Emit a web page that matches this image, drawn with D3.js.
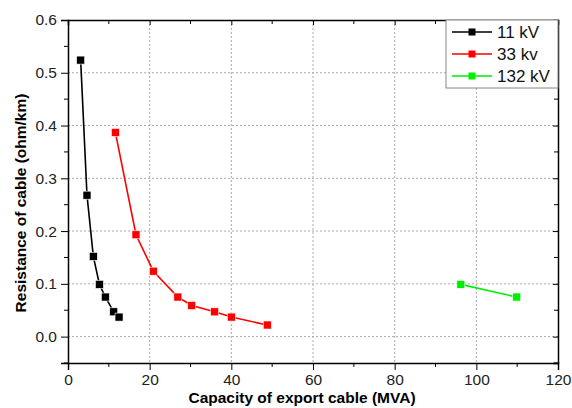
<!DOCTYPE html>
<html>
<head>
<meta charset="utf-8">
<script src="https://cdn.jsdelivr.net/npm/d3@7"></script>
<style>
  body { margin: 0; background: #fff; }
  svg { font-family: "Liberation Sans", Arial, sans-serif; }
</style>
</head>
<body>
<div id="chart"></div>
<script>
// data
const kv11 = [
  { x: 3.1, y: 0.524 }, { x: 4.65, y: 0.268 }, { x: 6.2, y: 0.152 },
  { x: 7.7, y: 0.099 }, { x: 9.15, y: 0.075 }, { x: 11.2, y: 0.047 },
  { x: 12.5, y: 0.037 }
];
const kv33 = [
  { x: 11.6, y: 0.387 }, { x: 16.65, y: 0.193 }, { x: 20.9, y: 0.124 },
  { x: 26.9, y: 0.075 }, { x: 30.3, y: 0.059 }, { x: 35.9, y: 0.047 },
  { x: 40.0, y: 0.037 }, { x: 48.8, y: 0.022 }
];
const kv132 = [
  { x: 96.2, y: 0.099 }, { x: 109.9, y: 0.075 }
];
const seriesNames = ['11 kV', '33 kv', '132 kV'];
const seriesColors = ['#000000', '#ff0000', '#00ee00'];
const xTicks = [0, 20, 40, 60, 80, 100, 120];
const yTicks = [0.0, 0.1, 0.2, 0.3, 0.4, 0.5, 0.6];

const width = 572, height = 408;
const margin = { top: 20, right: 14, bottom: 45, left: 68 };

const svg = d3.select('#chart').append('svg')
  .attr('width', width)
  .attr('height', height);

const x = d3.scaleLinear().domain([0, 120]).range([margin.left, width - margin.right]);
const y = d3.scaleLinear().domain([-0.05, 0.6]).range([height - margin.bottom, margin.top]);

const x0 = x.range()[0], x1 = x.range()[1];
const y0 = y.range()[0], y1 = y.range()[1];

// grid
svg.append('g').selectAll('line')
  .data(xTicks.filter(d => d > 0 && d < 120))
  .join('line')
  .attr('x1', d => x(d)).attr('x2', d => x(d))
  .attr('y1', y1).attr('y2', y0)
  .attr('stroke', '#aaa').attr('stroke-width', 1).attr('stroke-dasharray', '2,2');

svg.append('g').selectAll('line')
  .data(yTicks.filter(d => d < 0.6))
  .join('line')
  .attr('x1', x0).attr('x2', x1)
  .attr('y1', d => y(d)).attr('y2', d => y(d))
  .attr('stroke', '#aaa').attr('stroke-width', 1).attr('stroke-dasharray', '2,2');

// axes
const minorX = d3.range(10, 120, 20);
const minorY = d3.range(-0.05, 0.6, 0.1);

const xAxis = svg.append('g')
  .attr('transform', `translate(0,${y0})`)
  .call(d3.axisBottom(x).tickValues(xTicks).tickSize(7).tickPadding(4).tickFormat(d3.format('d')));
xAxis.append('g').selectAll('line').data(minorX).join('line')
  .attr('x1', d => x(d)).attr('x2', d => x(d)).attr('y1', 0).attr('y2', 4)
  .attr('stroke', '#000');

const yAxis = svg.append('g')
  .attr('transform', `translate(${x0},0)`)
  .call(d3.axisLeft(y).tickValues(yTicks).tickSize(7).tickPadding(4).tickFormat(d3.format('.1f')));
yAxis.append('g').selectAll('line').data(minorY).join('line')
  .attr('y1', d => y(d)).attr('y2', d => y(d)).attr('x1', 0).attr('x2', -4)
  .attr('stroke', '#000');

// top and right axes with inward ticks
const topAxis = svg.append('g')
  .attr('transform', `translate(0,${y1})`)
  .call(d3.axisTop(x).tickValues(xTicks).tickSize(-5).tickFormat(''));
topAxis.append('g').selectAll('line').data(minorX).join('line')
  .attr('x1', d => x(d)).attr('x2', d => x(d)).attr('y1', 0).attr('y2', 4)
  .attr('stroke', '#000');

const rightAxis = svg.append('g')
  .attr('transform', `translate(${x1},0)`)
  .call(d3.axisRight(y).tickValues(yTicks).tickSize(-5).tickFormat(''));
rightAxis.append('g').selectAll('line').data(minorY).join('line')
  .attr('y1', d => y(d)).attr('y2', d => y(d)).attr('x1', 0).attr('x2', -4)
  .attr('stroke', '#000');

svg.selectAll('.domain').attr('stroke', '#000').attr('stroke-width', 1.5);
svg.selectAll('.tick text').attr('font-size', 15.5).attr('fill', '#222');

// series
const line = d3.line().x(d => x(d.x)).y(d => y(d.y));
const allSeries = [kv11, kv33, kv132];
const ms = 8;

allSeries.forEach((data, i) => {
  svg.append('path')
    .datum(data)
    .attr('fill', 'none')
    .attr('stroke', seriesColors[i])
    .attr('stroke-width', 1.6)
    .attr('d', line);
  svg.append('g').selectAll('rect')
    .data(data)
    .join('rect')
    .attr('x', d => x(d.x) - ms / 2)
    .attr('y', d => y(d.y) - ms / 2)
    .attr('width', ms).attr('height', ms)
    .attr('fill', seriesColors[i])
    .attr('stroke', '#fff').attr('stroke-width', 0.6);
});

// legend
const legend = svg.append('g').attr('transform', `translate(${x1 - 112},${y1})`);
legend.append('rect')
  .attr('width', 112).attr('height', 68)
  .attr('fill', '#fff').attr('stroke', '#888').attr('stroke-width', 1);
seriesNames.forEach((name, i) => {
  const yy = 12 + i * 22;
  legend.append('line')
    .attr('x1', 6).attr('x2', 46).attr('y1', yy).attr('y2', yy)
    .attr('stroke', seriesColors[i]).attr('stroke-width', 1.6);
  legend.append('rect')
    .attr('x', 26 - 3.5).attr('y', yy - 3.5).attr('width', 7).attr('height', 7)
    .attr('fill', seriesColors[i]);
  legend.append('text')
    .attr('x', 51).attr('y', yy).attr('dy', '0.36em')
    .attr('font-size', 17).attr('fill', '#111')
    .text(name);
});

// axis titles
svg.append('text')
  .attr('x', 302).attr('y', height - 5)
  .attr('text-anchor', 'middle')
  .attr('font-size', 15.5).attr('font-weight', 'bold')
  .text('Capacity of export cable (MVA)');

svg.append('text')
  .attr('transform', `translate(26,203) rotate(-90)`)
  .attr('text-anchor', 'middle')
  .attr('font-size', 15.5).attr('font-weight', 'bold')
  .text('Resistance of cable (ohm/km)');
</script>
</body>
</html>
